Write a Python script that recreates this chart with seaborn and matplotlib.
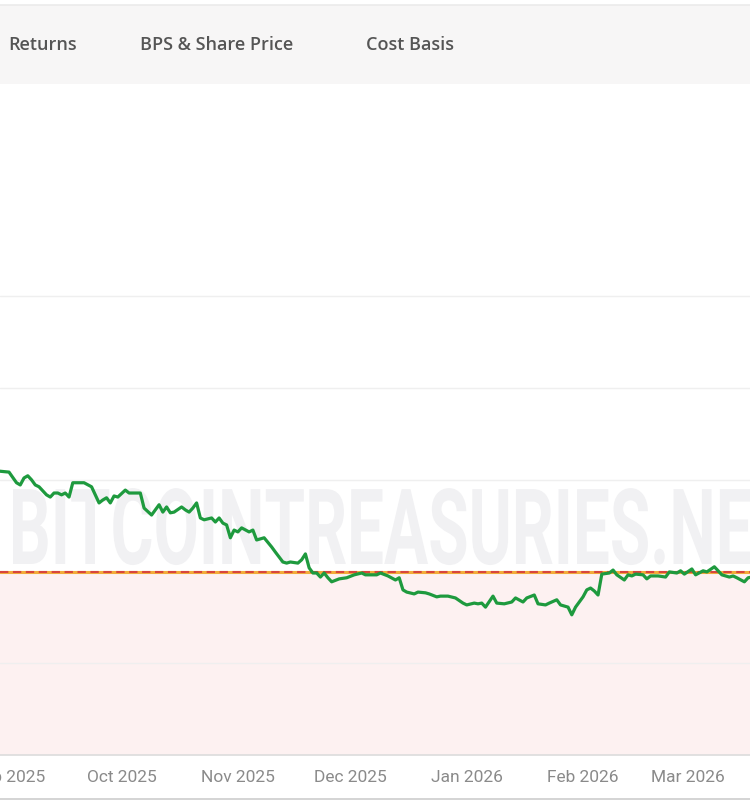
import matplotlib
matplotlib.use("Agg")
import matplotlib.pyplot as plt
import matplotlib.dates as mdates
from matplotlib.patches import Rectangle
from matplotlib.lines import Line2D
from matplotlib.patheffects import AbstractPathEffect
from matplotlib.transforms import Affine2D
from matplotlib.textpath import TextPath
from matplotlib.font_manager import FontProperties
import pandas as pd
import seaborn as sns

# ---------------- data ----------------
dates = [
    "2025-08-29", "2025-09-01", "2025-09-03", "2025-09-04", "2025-09-05", "2025-09-06",
    "2025-09-07", "2025-09-08", "2025-09-09", "2025-09-11", "2025-09-12", "2025-09-13",
    "2025-09-14", "2025-09-15", "2025-09-16", "2025-09-17", "2025-09-18", "2025-09-20",
    "2025-09-21", "2025-09-23", "2025-09-24", "2025-09-25", "2025-09-26", "2025-09-27",
    "2025-09-28", "2025-09-29", "2025-09-30", "2025-10-02", "2025-10-03", "2025-10-05",
    "2025-10-06", "2025-10-07", "2025-10-09", "2025-10-10", "2025-10-11", "2025-10-12",
    "2025-10-13", "2025-10-14", "2025-10-15", "2025-10-17", "2025-10-18", "2025-10-19",
    "2025-10-20", "2025-10-21", "2025-10-22", "2025-10-23", "2025-10-25", "2025-10-26",
    "2025-10-27", "2025-10-28", "2025-10-29", "2025-10-30", "2025-10-31", "2025-11-01",
    "2025-11-02", "2025-11-04", "2025-11-05", "2025-11-06", "2025-11-08", "2025-11-10",
    "2025-11-11", "2025-11-13", "2025-11-14", "2025-11-15", "2025-11-17", "2025-11-18",
    "2025-11-19", "2025-11-20", "2025-11-21", "2025-11-22", "2025-11-23", "2025-11-24",
    "2025-11-25", "2025-11-26", "2025-11-28", "2025-11-30", "2025-12-02", "2025-12-04",
    "2025-12-05", "2025-12-08", "2025-12-09", "2025-12-11", "2025-12-13", "2025-12-14",
    "2025-12-15", "2025-12-16", "2025-12-18", "2025-12-19", "2025-12-21", "2025-12-22",
    "2025-12-24", "2025-12-25", "2025-12-27", "2025-12-29", "2025-12-31", "2026-01-01",
    "2026-01-03", "2026-01-04", "2026-01-05", "2026-01-06", "2026-01-08", "2026-01-09",
    "2026-01-11", "2026-01-13", "2026-01-14", "2026-01-16", "2026-01-17", "2026-01-19",
    "2026-01-20", "2026-01-22", "2026-01-23", "2026-01-25", "2026-01-26", "2026-01-28",
    "2026-01-29", "2026-01-30", "2026-02-01", "2026-02-02", "2026-02-03", "2026-02-04",
    "2026-02-05", "2026-02-06", "2026-02-08", "2026-02-09", "2026-02-10", "2026-02-12",
    "2026-02-13", "2026-02-14", "2026-02-15", "2026-02-17", "2026-02-18", "2026-02-19",
    "2026-02-21", "2026-02-23", "2026-02-24", "2026-02-26", "2026-02-27", "2026-02-28",
    "2026-03-02", "2026-03-03", "2026-03-05", "2026-03-06", "2026-03-08", "2026-03-10",
    "2026-03-12", "2026-03-13", "2026-03-14", "2026-03-16", "2026-03-17", "2026-03-18",
]
values = [
    77.4, 77.1, 74.2, 73.6, 75.5, 76.1,
    75.0, 73.6, 73.1, 70.9, 70.3, 71.4,
    71.4, 70.9, 71.4, 70.3, 74.2, 74.2,
    74.2, 73.1, 70.9, 68.7, 69.5, 70.1,
    68.7, 70.6, 70.3, 72.2, 71.4, 71.4,
    71.4, 67.3, 65.4, 66.8, 68.2, 66.2,
    67.6, 66.0, 66.2, 67.6, 66.8, 66.2,
    67.3, 68.7, 64.6, 64.1, 64.6, 63.5,
    64.6, 63.2, 62.7, 59.2, 61.3, 60.8,
    61.9, 60.8, 61.3, 58.6, 59.2, 56.7,
    55.3, 52.6, 52.3, 52.6, 52.3, 53.2,
    54.8, 51.0, 49.6, 49.6, 48.5, 49.6,
    48.3, 47.2, 48.0, 48.3, 49.1, 49.6,
    49.1, 49.1, 49.6, 48.8, 47.7, 48.3,
    45.0, 44.4, 43.9, 44.4, 44.2, 43.9,
    43.1, 43.3, 43.3, 42.8, 41.4, 40.9,
    41.4, 41.2, 41.4, 40.3, 43.3, 41.4,
    41.2, 41.7, 42.8, 41.7, 42.8, 43.6,
    41.2, 40.9, 41.4, 42.3, 40.9, 40.3,
    38.2, 40.3, 43.1, 45.0, 45.5, 44.7,
    43.6, 49.3, 49.6, 50.4, 49.1, 47.7,
    49.1, 48.8, 49.3, 49.1, 48.0, 48.8,
    48.8, 48.5, 49.9, 49.6, 50.2, 49.3,
    50.7, 49.1, 50.2, 49.9, 51.3, 49.1,
    48.5, 48.8, 48.3, 47.2, 48.3, 48.5,
]
cost_basis = 50.0
tab_labels = ["Returns", "BPS & Share Price", "Cost Basis"]
watermark_text = "BITCOINTREASURIES.NET"

# ---------------- figure ----------------
sns.set_theme(style="white")
W, H, DPI = 750, 800, 100
fig = plt.figure(figsize=(W / DPI, H / DPI), dpi=DPI)
fig.patch.set_facecolor("white")

ax_top_px, ax_bot_px = 85, 755
ax = fig.add_axes([0, (H - ax_bot_px) / H, 1, (ax_bot_px - ax_top_px) / H])
ax.set_facecolor("white")

df = pd.DataFrame({"date": pd.to_datetime(dates), "value": values})

# shaded region below the cost basis
ax.axhspan(0, cost_basis, color="#fdf1f1", zorder=0, lw=0)

# grid lines
ax.set_yticks([25, 50, 75, 100, 125])
ax.yaxis.grid(True, color="#efefef", lw=1.0, zorder=0.5)
ax.xaxis.grid(False)
ax.tick_params(axis="y", left=False, labelleft=False)

# cost basis line (orange with red dashes)
ax.axhline(cost_basis, color="#f2ac3a", lw=2.2, zorder=2)
ax.axhline(cost_basis, color="#d8453c", lw=1.5, ls=(0, (4, 2.2)), zorder=2.1)

# main series
sns.lineplot(data=df, x="date", y="value", ax=ax, color="#1e9a3e",
             linewidth=2.3, zorder=3)

x0 = mdates.date2num(pd.Timestamp("2025-08-29")) + 0.6
x1 = mdates.date2num(pd.Timestamp("2026-03-17")) + 0.5
ax.set_xlim(x0, x1)
ax.set_ylim(0, 182.6)
ax.set_xlabel("")
ax.set_ylabel("")

ax.xaxis.set_major_locator(mdates.MonthLocator())
ax.xaxis.set_major_formatter(mdates.DateFormatter("%b %Y"))
ax.tick_params(axis="x", length=0, pad=11, labelsize=12.5, labelcolor="#8a8a8a")
for lab in ax.get_xticklabels():
    lab.set_fontfamily("Roboto")

for side in ["top", "left", "right"]:
    ax.spines[side].set_visible(False)
ax.spines["bottom"].set_color("#dcdcdc")
ax.spines["bottom"].set_linewidth(1.2)


# ---------------- watermark (real text, stretched by a path effect) ----------------
class Stretch(AbstractPathEffect):
    def __init__(self, sx, sy, cx, cy):
        super().__init__()
        self._t = Affine2D().translate(-cx, -cy).scale(sx, sy).translate(cx, cy)

    def draw_path(self, renderer, gc, tpath, affine, rgbFace=None):
        renderer.draw_path(gc, tpath, affine + self._t, rgbFace)


wm_fp = FontProperties(family="Roboto", weight="bold", size=60)
tp = TextPath((0, 0), watermark_text, size=60, prop=wm_fp)
ext = tp.get_extents()
k = DPI / 72.0
target_left, target_right = 13, 792
target_top, target_base = 487, 564
sx = (target_right - target_left) / (ext.width * k)
sy = (target_base - target_top) / (ext.height * k)
anchor_x = target_left - ext.x0 * k * sx
anchor_y = H - target_base
wm = ax.text(anchor_x / W, anchor_y / H, watermark_text, transform=fig.transFigure,
             fontproperties=wm_fp, color="#f1f1f3", ha="left", va="baseline",
             zorder=1, clip_on=False)
wm.set_path_effects([Stretch(sx, sy, anchor_x, anchor_y)])

# ---------------- tab bar ----------------
fig.patches.append(Rectangle((0, (H - 84) / H), 1, 79 / H, transform=fig.transFigure,
                             facecolor="#f7f6f6", edgecolor="none", zorder=0))
fig.lines.append(Line2D([0, 1], [(H - 5) / H] * 2, transform=fig.transFigure,
                        color="#ebebeb", lw=1.2))
tab_x = [8, 140, 366]
for tx, lab in zip(tab_x, tab_labels):
    fig.text(tx / W, (H - 45) / H, lab, ha="left", va="center",
             fontsize=13, fontfamily="Open Sans", fontweight="semibold", color="#555555")

# bottom border of the card
fig.lines.append(Line2D([0, 1], [(H - 798.5) / H] * 2, transform=fig.transFigure,
                        color="#cdcdcd", lw=1.2))

fig.savefig("out.png", dpi=DPI, facecolor="white")
